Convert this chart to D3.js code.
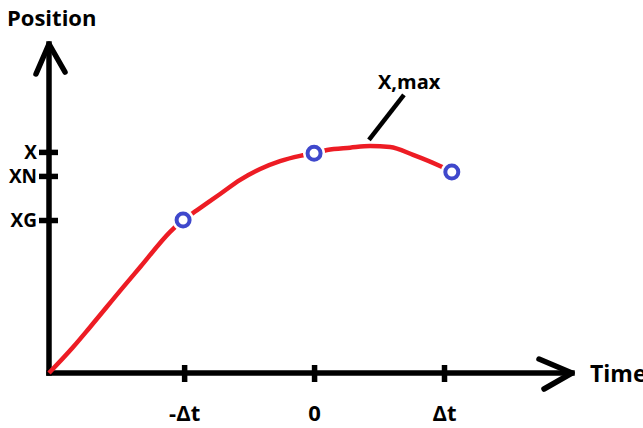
<!DOCTYPE html>
<html>
<head>
<meta charset="utf-8">
<script src="https://cdn.jsdelivr.net/npm/d3@7"></script>
<style>
  body { margin: 0; background: #fff; }
  text { font-family: "Open Sans", sans-serif; font-weight: bold; fill: #000; }
</style>
</head>
<body>
<div id="chart"></div>
<script>
// curve samples (time in units of dt, position in % of axis)
var curveTime = [-2.04, -1.854, -1.723, -1.469, -1.338, -1.108, -1.008, -0.9, -0.723, -0.569, -0.415, -0.262, -0.108, 0, 0.1, 0.277, 0.431, 0.585, 0.762, 0.969, 1.06];
var curvePos = [0, 7.9, 14.0, 26.1, 32.2, 42.9, 46.5, 49.5, 54.4, 58.7, 62.0, 64.4, 66.0, 66.8, 67.8, 68.5, 69.0, 68.7, 66.3, 62.9, 61.1];

// sampled points (blue circles)
var pointTime = [-1.008, 0, 1.06];
var pointPos = [46.5, 66.8, 61.1];

// axis ticks
var xTickValues = [-1, 0, 1];
var xTickLabels = ["-Δt", "0", "Δt"];
var yTickValues = [67.2, 59.9, 46.5];
var yTickLabels = ["X", "XN", "XG"];

// annotation
var maxLabel = "X,max";
var maxTime = 0.43, maxPos = 69.0;

var width = 643, height = 428;

var x = d3.scaleLinear().domain([-2.04, 1.985]).range([49, 572]);
var y = d3.scaleLinear().domain([0, 100]).range([373, 44]);

var svg = d3.select("#chart").append("svg").attr("width", width).attr("height", height);

// axes
var ax = svg.append("g").attr("stroke", "#000").attr("stroke-width", 5.5).attr("fill", "none")
    .attr("stroke-linecap", "square");
ax.append("line").attr("x1", x(-2.04)).attr("y1", y(0)).attr("x2", x(-2.04)).attr("y2", y(100));
ax.append("line").attr("x1", x(-2.04)).attr("y1", y(0)).attr("x2", x(1.985)).attr("y2", y(0));
// arrow heads
ax.append("path").attr("stroke-linecap", "round").attr("stroke-linejoin", "round")
    .attr("d", "M" + (x(-2.04) - 13) + "," + (y(100) + 30) + "L" + x(-2.04) + "," + y(100) + "L" + (x(-2.04) + 16) + "," + (y(100) + 28));
ax.append("path").attr("stroke-linecap", "round").attr("stroke-linejoin", "round")
    .attr("d", "M" + (x(1.985) - 33) + "," + (y(0) - 14) + "L" + x(1.985) + "," + y(0) + "L" + (x(1.985) - 28) + "," + (y(0) + 16));

// x ticks
var xAxis = d3.axisBottom(x).tickValues(xTickValues).tickSize(0).tickFormat(function(d, i) { return xTickLabels[i]; });
var gx = svg.append("g").attr("transform", "translate(0," + y(0) + ")").call(xAxis);
gx.select(".domain").remove();
gx.selectAll(".tick line").attr("y1", -8).attr("y2", 9).attr("stroke", "#000").attr("stroke-width", 5.5);
gx.selectAll(".tick text").attr("y", 0).attr("dy", 48).style("font-size", "22px").attr("fill", "#000");

// y ticks
var yAxis = d3.axisLeft(y).tickValues(yTickValues).tickSize(0).tickFormat(function(d, i) { return yTickLabels[i]; });
var gy = svg.append("g").attr("transform", "translate(" + x(-2.04) + ",0)").call(yAxis);
gy.select(".domain").remove();
gy.selectAll(".tick line").attr("x1", -10).attr("x2", 9).attr("stroke", "#000").attr("stroke-width", 5.5);
gy.selectAll(".tick text").attr("x", -12).attr("dy", "0.36em").style("font-size", "19px").attr("fill", "#000");

// axis titles
svg.append("text").attr("x", 7).attr("y", 26).style("font-size", "22px").text("Position");
svg.append("text").attr("x", 590).attr("y", 382).style("font-size", "23px").text("Time");

// curve
var line = d3.line()
    .x(function(d, i) { return x(curveTime[i]); })
    .y(function(d, i) { return y(curvePos[i]); })
    .curve(d3.curveMonotoneX);
svg.append("path").datum(curveTime).attr("d", line)
    .attr("fill", "none").attr("stroke", "#ed1c24").attr("stroke-width", 4.5).attr("stroke-linecap", "butt");

// annotation line and label
svg.append("line").attr("x1", x(maxTime) - 1).attr("y1", y(maxPos) - 6).attr("x2", x(maxTime) + 34).attr("y2", y(maxPos) - 51)
    .attr("stroke", "#000").attr("stroke-width", 4.5);
svg.append("text").attr("x", 378).attr("y", 89).style("font-size", "20px").text(maxLabel);

// circles
var pts = svg.append("g").selectAll("g").data(pointTime).join("g")
    .attr("transform", function(d, i) { return "translate(" + x(d) + "," + y(pointPos[i]) + ")"; });
pts.append("circle").attr("r", 11).attr("fill", "#fff");
pts.append("circle").attr("r", 6.5).attr("fill", "#fff").attr("stroke", "#3f48cc").attr("stroke-width", 4);
</script>
</body>
</html>
